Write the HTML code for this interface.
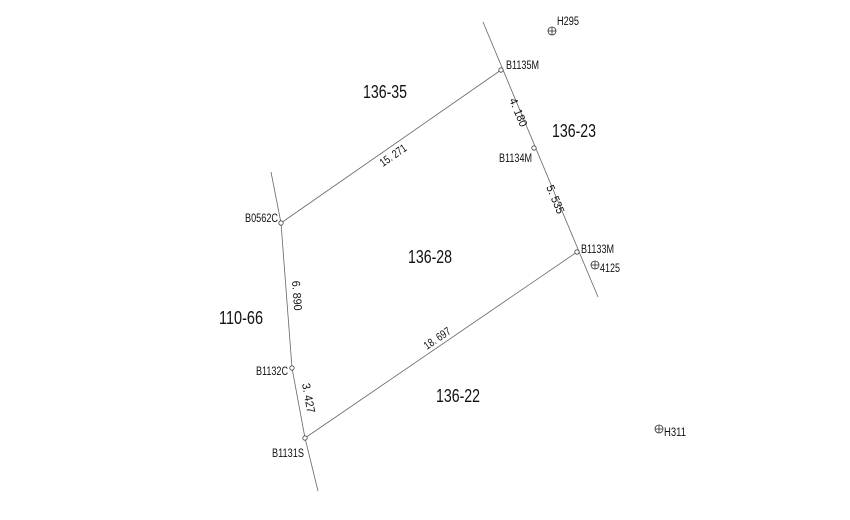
<!DOCTYPE html>
<html><head><meta charset="utf-8"><style>
html,body{margin:0;padding:0;background:#fff;width:850px;height:520px;overflow:hidden}
svg{display:block}
text{font-family:"Liberation Sans",sans-serif;fill:#111}
.s{font-size:11.5px}
.p{font-size:18px}
</style></head><body>
<svg width="850" height="520" viewBox="0 0 850 520">
<g stroke="#666" stroke-width="0.8" fill="none">
<line x1="483" y1="22" x2="598" y2="297"/>
<polyline points="271,172 281,223 292,368 305,438 318,491"/>
<line x1="281" y1="223" x2="501" y2="70"/>
<line x1="305" y1="438" x2="577" y2="252"/>
</g>
<g stroke="#444" stroke-width="0.8" fill="#fff">
<circle cx="501" cy="70" r="2.2"/>
<circle cx="534" cy="148" r="2.2"/>
<circle cx="577" cy="252" r="2.2"/>
<circle cx="281" cy="223" r="2.2"/>
<circle cx="292" cy="368" r="2.2"/>
<circle cx="305" cy="438" r="2.2"/>
</g>
<g stroke="#333" stroke-width="0.8" fill="none">
<circle cx="552" cy="31" r="4"/><line x1="548" y1="31" x2="556" y2="31"/><line x1="552" y1="27" x2="552" y2="35"/>
<circle cx="595" cy="265" r="4"/><line x1="591" y1="265" x2="599" y2="265"/><line x1="595" y1="261" x2="595" y2="269"/>
<circle cx="659" cy="429" r="4"/><line x1="655" y1="429" x2="663" y2="429"/><line x1="659" y1="425" x2="659" y2="433"/>
</g>
<text class="s" x="557" y="25" textLength="22" lengthAdjust="spacingAndGlyphs">H295</text>
<text class="s" x="506" y="69" textLength="33" lengthAdjust="spacingAndGlyphs">B1135M</text>
<text class="s" x="499" y="162" textLength="33" lengthAdjust="spacingAndGlyphs">B1134M</text>
<text class="s" x="581" y="253" textLength="33" lengthAdjust="spacingAndGlyphs">B1133M</text>
<text class="s" x="600" y="272" textLength="20" lengthAdjust="spacingAndGlyphs">4125</text>
<text class="s" x="664" y="436" textLength="22" lengthAdjust="spacingAndGlyphs">H311</text>
<text class="s" x="245" y="222" textLength="33" lengthAdjust="spacingAndGlyphs">B0562C</text>
<text class="s" x="256" y="375" textLength="32" lengthAdjust="spacingAndGlyphs">B1132C</text>
<text class="s" x="272" y="457" textLength="32" lengthAdjust="spacingAndGlyphs">B1131S</text>
<text class="p" x="363" y="98" textLength="44" lengthAdjust="spacingAndGlyphs">136-35</text>
<text class="p" x="552" y="137" textLength="44" lengthAdjust="spacingAndGlyphs">136-23</text>
<text class="p" x="408" y="263" textLength="44" lengthAdjust="spacingAndGlyphs">136-28</text>
<text class="p" x="219" y="324" textLength="44" lengthAdjust="spacingAndGlyphs">110-66</text>
<text class="p" x="436" y="402" textLength="44" lengthAdjust="spacingAndGlyphs">136-22</text>
<text class="s" transform="translate(383,167) rotate(-34.8)" textLength="30" lengthAdjust="spacingAndGlyphs">15. 271</text>
<text class="s" transform="translate(427,350) rotate(-34.4)" textLength="30" lengthAdjust="spacingAndGlyphs">18. 697</text>
<text class="s" transform="translate(509,100) rotate(67.3)" textLength="30" lengthAdjust="spacingAndGlyphs">4. 180</text>
<text class="s" transform="translate(546,187) rotate(67.3)" textLength="30" lengthAdjust="spacingAndGlyphs">5. 535</text>
<text class="s" transform="translate(292,281) rotate(85.7)" textLength="30" lengthAdjust="spacingAndGlyphs">6. 890</text>
<text class="s" transform="translate(302,384) rotate(79.5)" textLength="30" lengthAdjust="spacingAndGlyphs">3. 427</text>
</svg>
</body></html>
